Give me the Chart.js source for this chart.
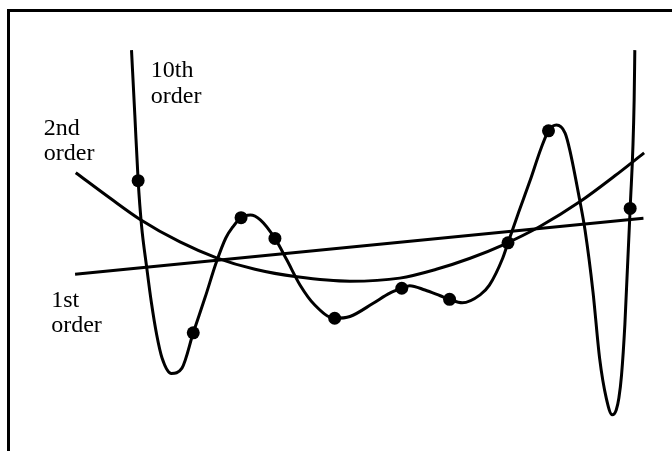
<!DOCTYPE html>
<html>
<head>
<meta charset="utf-8">
<script src="https://cdn.jsdelivr.net/npm/chart.js@4/dist/chart.umd.min.js"></script>
<style>
  html, body { margin: 0; padding: 0; background: #fff; }
  canvas { display: block; }
</style>
</head>
<body>
<canvas id="fit" width="672" height="451"></canvas>
<script>
// Measured samples
const sampleX = [1.96, 2.79, 3.51, 4.02, 4.92, 5.93, 6.65, 7.53, 8.14, 9.37];
const sampleY = [6.13, 2.68, 5.29, 4.82, 3.01, 3.69, 3.44, 4.72, 7.26, 5.50];

// 1st order fit (straight line)
const order1X = [1.01, 9.57];
const order1Y = [4.01, 5.28];

// 2nd order fit
const order2X = [1.02, 1.54, 1.99, 2.59, 3.14, 3.72, 4.35, 5.15, 5.90, 6.45, 6.96, 7.45, 8.01, 8.61, 9.14, 9.58];
const order2Y = [6.31, 5.73, 5.25, 4.74, 4.38, 4.12, 3.95, 3.85, 3.92, 4.12, 4.37, 4.67, 5.09, 5.65, 6.24, 6.76];

// 10th order fit
const order10X = [1.86, 1.91, 1.96, 2.01, 2.09, 2.16, 2.24, 2.32, 2.46, 2.62, 2.79, 2.97, 3.14, 3.28, 3.39,
                  3.51, 3.65, 3.80, 4.02, 4.20, 4.40, 4.62, 4.92, 5.15, 5.50, 5.75, 5.93, 6.05, 6.28, 6.51,
                  6.65, 6.84, 7.11, 7.25, 7.45, 7.53, 7.68, 7.86, 8.03, 8.14, 8.26, 8.39, 8.46, 8.61, 8.69,
                  8.81, 8.91, 9.01, 9.10, 9.16, 9.20, 9.24, 9.29, 9.37, 9.43, 9.44];
const order10Y = [9.09, 7.62, 6.13, 5.13, 4.15, 3.36, 2.63, 2.11, 1.76, 1.88, 2.68, 3.49, 4.29, 4.83, 5.09,
                  5.29, 5.35, 5.24, 4.82, 4.33, 3.76, 3.31, 3.01, 3.05, 3.35, 3.58, 3.69, 3.75, 3.65, 3.52,
                  3.44, 3.36, 3.54, 3.76, 4.37, 4.72, 5.37, 6.12, 6.87, 7.26, 7.39, 7.21, 6.83, 5.69, 5.01,
                  3.61, 2.10, 1.20, 0.82, 0.93, 1.20, 1.72, 2.86, 5.50, 7.96, 9.09];

// Curve captions: text lines and anchor (left edge, first baseline)
const captionLines = [["10th", "order"], ["2nd", "order"], ["1st", "order"]];
const captionX = [2.15, 0.54, 0.65];
const captionY = [8.48, 7.17, 3.27];

const toXY = (xs, ys) => xs.map((x, i) => ({ x: x, y: ys[i] }));

const captions = {
  id: 'captions',
  afterDatasetsDraw(chart) {
    const ctx = chart.ctx;
    const sx = chart.scales.x, sy = chart.scales.y;
    ctx.save();
    ctx.fillStyle = '#000';
    ctx.font = '24px "Liberation Serif", "Times New Roman", serif';
    ctx.textAlign = 'left';
    ctx.textBaseline = 'alphabetic';
    captionLines.forEach((lines, i) => {
      const px = sx.getPixelForValue(captionX[i]);
      const py = sy.getPixelForValue(captionY[i]);
      lines.forEach((t, j) => ctx.fillText(t, px, py + j * 25.5));
    });
    ctx.restore();
  }
};

const axisStyle = {
  type: 'linear',
  min: 0,
  max: 10,
  grid: { display: false, drawTicks: false },
  ticks: { display: false },
  border: { display: true, color: '#000', width: 3 }
};

const curve = (label, xs, ys, extra) => Object.assign({
  label: label,
  data: toXY(xs, ys),
  showLine: true,
  borderColor: '#000',
  borderWidth: 3,
  pointRadius: 0,
  cubicInterpolationMode: 'monotone'
}, extra || {});

new Chart(document.getElementById('fit'), {
  type: 'scatter',
  data: {
    datasets: [
      {
        label: 'samples',
        data: toXY(sampleX, sampleY),
        showLine: false,
        pointRadius: 6.5,
        pointBackgroundColor: '#000',
        pointBorderWidth: 0
      },
      curve('10th order', order10X, order10Y),
      curve('2nd order', order2X, order2Y),
      curve('1st order', order1X, order1Y, { cubicInterpolationMode: 'default', tension: 0 })
    ]
  },
  options: {
    responsive: false,
    devicePixelRatio: 1,
    animation: false,
    layout: { autoPadding: false, padding: { left: 8, top: 10, right: 0, bottom: 0 } },
    plugins: { legend: { display: false }, tooltip: { enabled: false } },
    scales: {
      x: Object.assign({}, axisStyle, { position: 'top' }),
      y: Object.assign({}, axisStyle, { position: 'left' })
    }
  },
  plugins: [captions]
});
</script>
</body>
</html>
